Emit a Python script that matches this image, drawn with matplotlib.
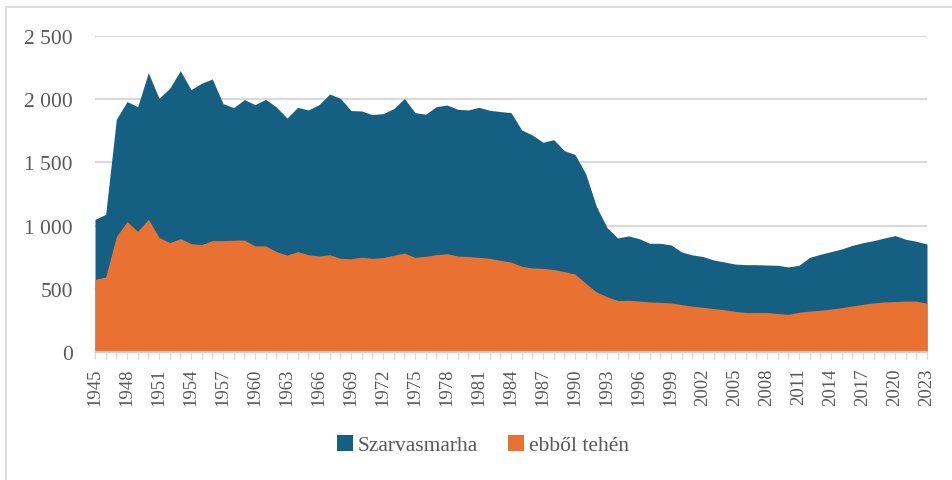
import matplotlib
matplotlib.use("Agg")
import matplotlib.pyplot as plt
from matplotlib.patches import Rectangle, Patch
import numpy as np

years = list(range(1945, 2024))
szarvasmarha = [
    1050, 1089, 1841, 1981, 1941, 2210, 2007, 2086, 2226, 2076,
    2126, 2160, 1965, 1933, 1997, 1957, 1999, 1938, 1851, 1936,
    1915, 1957, 2041, 2007, 1910, 1907, 1878, 1886, 1925, 2005,
    1894, 1881, 1941, 1954, 1920, 1915, 1936, 1912, 1902, 1894,
    1756, 1717, 1659, 1680, 1593, 1562, 1411, 1153, 984, 902,
    918, 897, 860, 860, 847, 791, 768, 755, 728, 712,
    696, 691, 691, 688, 686, 673, 686, 749, 773, 794,
    815, 844, 865, 881, 902, 921, 892, 876, 854,
]
teheny = [
    575, 593, 913, 1032, 955, 1050, 907, 865, 897, 857,
    850, 881, 881, 884, 886, 839, 839, 794, 767, 794,
    770, 759, 770, 741, 738, 750, 741, 747, 765, 783,
    749, 757, 770, 778, 759, 755, 749, 741, 725, 712,
    678, 665, 662, 652, 636, 617, 543, 475, 438, 407,
    409, 403, 396, 393, 388, 375, 362, 354, 343, 335,
    322, 312, 312, 312, 304, 298, 314, 324, 330, 340,
    351, 364, 377, 388, 396, 399, 403, 403, 385,
]
series_names = ["Szarvasmarha", "ebből tehén"]
yticks = [0, 500, 1000, 1500, 2000, 2500]
ytick_labels = ["0", "500", "1 000", "1 500", "2 000", "2 500"]

blue = "#156082"
orange = "#E97132"
grid_c = "#D9D9D9"
text_c = "#595959"

plt.rcParams['font.family'] = ['Liberation Serif', 'DejaVu Serif']

fig = plt.figure(figsize=(9.53, 4.81), dpi=100)
W, H = 953, 481
ax = fig.add_axes([95 / W, 1 - 353 / H, (927 - 95) / W, (353 - 37) / H])

# chart border (light gray)
fig.patches.append(Rectangle((6 / W, -0.1), 1.2, 1 - 8 / H + 0.1, transform=fig.transFigure,
                             fill=False, edgecolor="#D9D9D9", linewidth=1.2))

ax.fill_between(years, 0, szarvasmarha, color=blue, linewidth=0, zorder=2)
ax.fill_between(years, 0, teheny, color=orange, linewidth=0, zorder=3)

ax.set_xlim(1945, 2023)
ax.set_ylim(0, 2500)
ax.set_yticks(yticks)
ax.set_yticklabels(ytick_labels)
ax.yaxis.grid(True, color=grid_c, linewidth=1.5, zorder=0)
ax.set_axisbelow(True)
ax.tick_params(axis='y', length=0, pad=16, labelsize=15.5, labelcolor=text_c)

ax.set_xticks(years, minor=True)
label_years = years[::3]
ax.set_xticks(label_years)
ax.set_xticklabels([str(y) for y in label_years], rotation=90)
ax.tick_params(axis='x', which='both', direction='out', length=5, width=1, color=grid_c,
               labelsize=13.5, labelcolor=text_c, pad=6)

for s in ["top", "right", "left"]:
    ax.spines[s].set_visible(False)
ax.spines["bottom"].set_color(grid_c)
ax.spines["bottom"].set_linewidth(1.2)
ax.spines["bottom"].set_zorder(4)

handles = [Patch(facecolor=blue, edgecolor='none'), Patch(facecolor=orange, edgecolor='none')]
fig.legend(handles, series_names, loc='center', bbox_to_anchor=(483 / W, 1 - 446 / H),
           ncol=2, frameon=False, fontsize=15.5, handlelength=0.75, handleheight=0.75,
           handletextpad=0.2, columnspacing=1.4, labelcolor=text_c)

fig.savefig("out.png", dpi=100)
